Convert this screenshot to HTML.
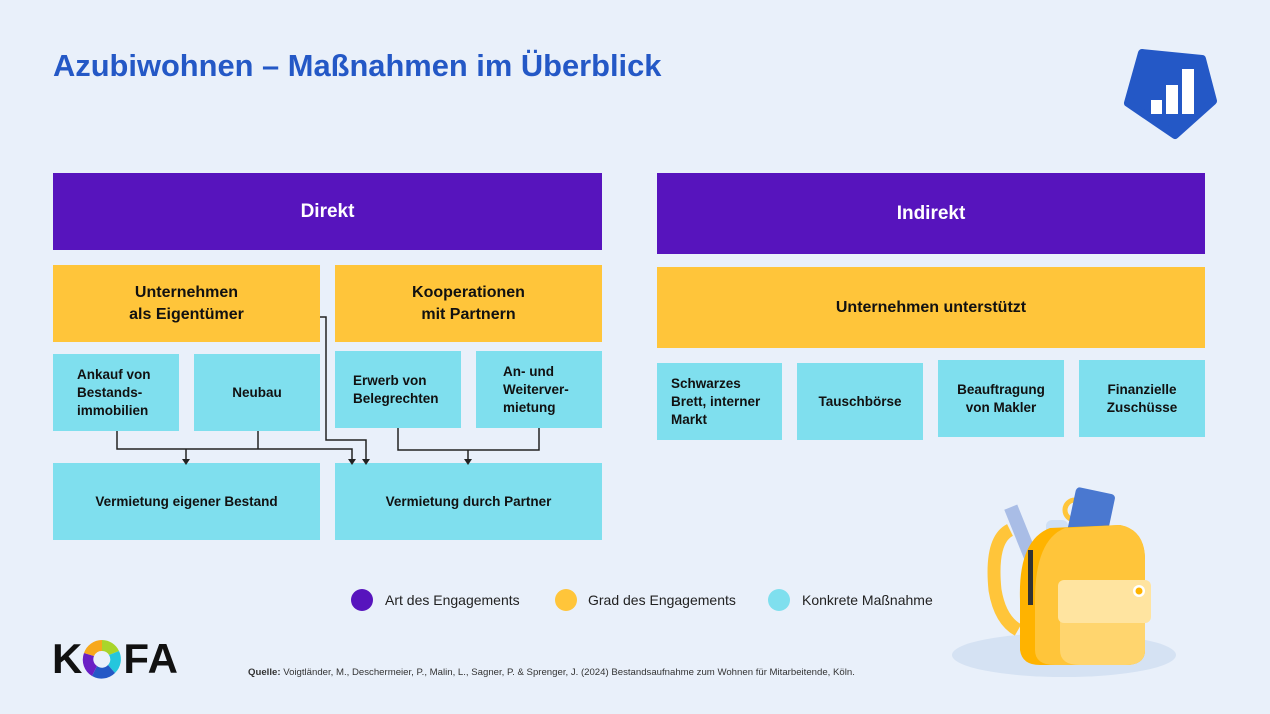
<!DOCTYPE html>
<html><head><meta charset="utf-8"><style>
body{margin:0;width:1270px;height:714px;background:#e9f0fa;position:relative;overflow:hidden;font-family:"Liberation Sans",sans-serif;}
.b{position:absolute;display:flex;align-items:center;justify-content:center;text-align:center;font-weight:bold;color:#111;box-sizing:border-box;}
.p{background:#5714bd;color:#fff;font-size:19px;}
.y{background:#ffc53a;font-size:16px;line-height:22px;}
.c{background:#7fdfee;font-size:13.5px;line-height:18px;}
.l{position:absolute;font-size:14px;color:#222;}
.dot{position:absolute;width:22px;height:22px;border-radius:50%;}
</style></head><body>
<div style="position:absolute;left:53px;top:48px;font-size:31px;font-weight:bold;color:#2458c6;white-space:nowrap;transform:scaleX(0.995);transform-origin:left;">Azubiwohnen – Maßnahmen im Überblick</div>

<svg style="position:absolute;left:1120px;top:45px" width="100" height="100" viewBox="0 0 100 100">
<polygon points="22,8 82,14 93,56 55,90 8,58" fill="#2458c6" stroke="#2458c6" stroke-width="8" stroke-linejoin="round"/>
<rect x="31" y="55" width="11" height="14" fill="#fff"/><rect x="46" y="40" width="12" height="29" fill="#fff"/><rect x="62" y="24" width="12" height="45" fill="#fff"/>
</svg>

<div class="b p" style="left:53px;top:173px;width:549px;height:77px">Direkt</div>
<div class="b p" style="left:657px;top:173px;width:548px;height:81px">Indirekt</div>
<div class="b y" style="left:53px;top:265px;width:267px;height:77px">Unternehmen<br>als Eigentümer</div>
<div class="b y" style="left:335px;top:265px;width:267px;height:77px">Kooperationen<br>mit Partnern</div>
<div class="b y" style="left:657px;top:267px;width:548px;height:81px">Unternehmen unterstützt</div>

<div class="b c" style="left:53px;top:354px;width:126px;height:77px;justify-content:flex-start;text-align:left;padding-left:24px">Ankauf von<br>Bestands-<br>immobilien</div>
<div class="b c" style="left:194px;top:354px;width:126px;height:77px">Neubau</div>
<div class="b c" style="left:335px;top:351px;width:126px;height:77px;justify-content:flex-start;text-align:left;padding-left:18px">Erwerb von<br>Belegrechten</div>
<div class="b c" style="left:476px;top:351px;width:126px;height:77px;justify-content:flex-start;text-align:left;padding-left:27px">An- und<br>Weiterver-<br>mietung</div>
<div class="b c" style="left:53px;top:463px;width:267px;height:77px">Vermietung eigener Bestand</div>
<div class="b c" style="left:335px;top:463px;width:267px;height:77px">Vermietung durch Partner</div>

<div class="b c" style="left:657px;top:363px;width:125px;height:77px;justify-content:flex-start;text-align:left;padding-left:14px">Schwarzes<br>Brett, interner<br>Markt</div>
<div class="b c" style="left:797px;top:363px;width:126px;height:77px">Tauschbörse</div>
<div class="b c" style="left:938px;top:360px;width:126px;height:77px">Beauftragung<br>von Makler</div>
<div class="b c" style="left:1079px;top:360px;width:126px;height:77px">Finanzielle<br>Zuschüsse</div>

<svg style="position:absolute;left:0;top:0" width="1270" height="714">
<g stroke="#222" stroke-width="1.5" fill="none">
<polyline points="117,431 117,449 352,449 352,459"/>
<line x1="258" y1="431" x2="258" y2="449"/>
<line x1="186" y1="449" x2="186" y2="459"/>
<polyline points="320,317 326,317 326,440 366,440 366,459"/>
<polyline points="398,428 398,450 539,450 539,428"/>
<line x1="468" y1="450" x2="468" y2="459"/>
</g>
<g fill="#222">
<polygon points="182,459 190,459 186,465"/><polygon points="348,459 356,459 352,465"/>
<polygon points="362,459 370,459 366,465"/><polygon points="464,459 472,459 468,465"/>
</g>
</svg>

<div class="dot" style="left:351px;top:589px;background:#5714bd"></div>
<div class="l" style="left:385px;top:592px">Art des Engagements</div>
<div class="dot" style="left:555px;top:589px;background:#ffc53a"></div>
<div class="l" style="left:588px;top:592px">Grad des Engagements</div>
<div class="dot" style="left:768px;top:589px;background:#7fdfee"></div>
<div class="l" style="left:802px;top:592px">Konkrete Maßnahme</div>

<div style="position:absolute;left:52px;top:635px;font-size:42px;font-weight:bold;color:#111;letter-spacing:1px;line-height:48px">K<span style="display:inline-block;width:40px"></span>FA</div>
<svg style="position:absolute;left:82px;top:639px" width="40" height="40" viewBox="0 0 40 40">
<path d="M20 1 A19 19 0 0 1 37 12 L27 16 A8 8 0 0 0 20 12Z" fill="#a9d52a"/>
<path d="M37 12 A19 19 0 0 1 33 34 L26 26 A8 8 0 0 0 27 16Z" fill="#25c6dd"/>
<path d="M33 34 A19 19 0 0 1 10 37 L15 27 A8 8 0 0 0 26 26Z" fill="#2458c6"/>
<path d="M10 37 A19 19 0 0 1 2 14 L12 17 A8 8 0 0 0 15 27Z" fill="#6a1fc5"/>
<path d="M2 14 A19 19 0 0 1 20 1 L20 12 A8 8 0 0 0 12 17Z" fill="#f7a81b"/>
</svg>

<div style="position:absolute;left:248px;top:667px;font-size:9.6px;color:#333;white-space:nowrap"><b>Quelle:</b> Voigtländer, M., Deschermeier, P., Malin, L., Sagner, P. &amp; Sprenger, J. (2024) Bestandsaufnahme zum Wohnen für Mitarbeitende, Köln.</div>

<svg style="position:absolute;left:940px;top:480px" width="250" height="200" viewBox="0 0 250 200">
<ellipse cx="124" cy="175" rx="112" ry="22" fill="#d5e2f3"/>
<path d="M70 50 Q50 60 55 110 Q60 140 78 150" fill="none" stroke="#ffc53a" stroke-width="13"/>
<circle cx="135" cy="30" r="10" fill="none" stroke="#ffc53a" stroke-width="5"/>
<rect x="132" y="10" width="40" height="45" rx="4" fill="#4a78d0" transform="rotate(12 150 30)"/>
<rect x="75" y="25" width="14" height="60" fill="#a9bde6" transform="rotate(-22 82 55)"/>
<rect x="106" y="40" width="22" height="30" rx="6" fill="#cfe0f5"/>
<path d="M80 120 Q78 60 110 48 L180 45 Q205 50 205 80 L205 170 Q205 185 185 185 L100 185 Q82 185 80 170Z" fill="#ffb300"/>
<path d="M95 120 Q95 60 125 48 L180 45 Q205 50 205 80 L205 170 Q205 185 185 185 L115 185 Q95 185 95 170Z" fill="#ffc53a"/>
<rect x="88" y="70" width="5" height="55" fill="#333"/>
<path d="M120 140 L205 140 L205 170 Q205 185 185 185 L140 185 Q120 185 120 170Z" fill="#ffd56e"/>
<rect x="118" y="100" width="93" height="43" rx="6" fill="#ffe4a0"/>
<circle cx="199" cy="111" r="6" fill="#fff"/><circle cx="199" cy="111" r="3.5" fill="#ffb300"/>
</svg>
</body></html>
